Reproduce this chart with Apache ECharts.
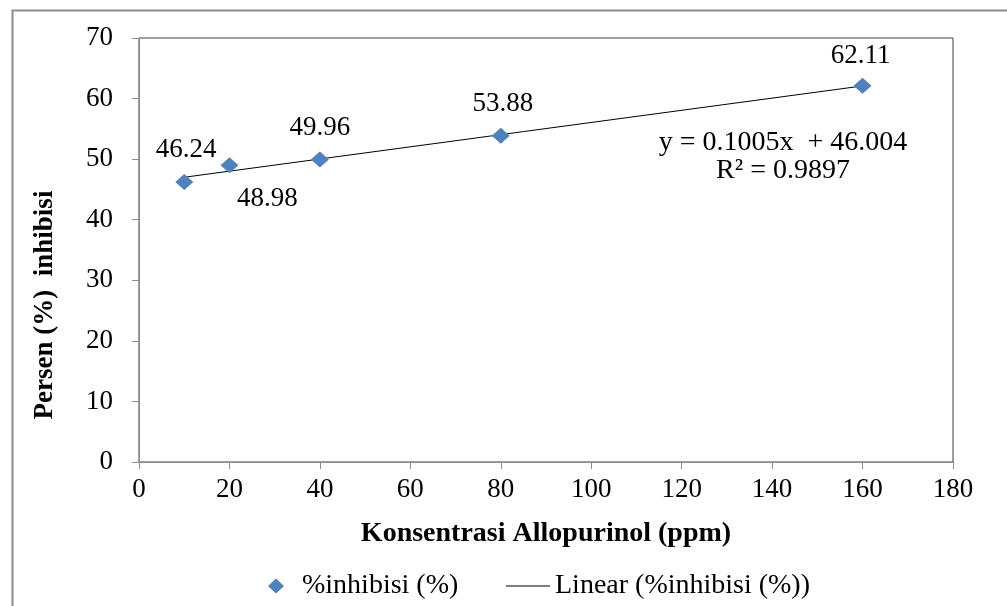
<!DOCTYPE html>
<html>
<head>
<meta charset="utf-8">
<script src="https://cdn.jsdelivr.net/npm/echarts@6/dist/echarts.min.js"></script>
<style>html,body{margin:0;padding:0;background:#fff;}#c{width:1007px;height:606px;}</style>
</head>
<body>
<div id="c"></div>
<script>
const concentrations = [10, 20, 40, 80, 160];
const inhibition = [46.24, 48.98, 49.96, 53.88, 62.11];
const trendX = [10, 160];
const trendY = [47.009, 62.084];
const xTicks = { min: 0, max: 180, interval: 20 };
const yTicks = { min: 0, max: 70, interval: 10 };
const seriesName = '%inhibisi (%)';
const trendName = 'Linear (%inhibisi (%))';
const equationText = 'y = 0.1005x  + 46.004';
const r2Text = 'R² = 0.9897';

const FONT = '"Liberation Serif", "Times New Roman", serif';
const labelOffsets = [[2, -32], [38, 34], [0, -31], [2, -32], [-2, -30]];

const scatterData = concentrations.map((x, i) => ({
  value: [x, inhibition[i]],
  label: { show: true, position: 'inside', offset: labelOffsets[i], formatter: inhibition[i].toFixed(2),
    color: '#000', textBorderWidth: 0, fontFamily: FONT, fontSize: 27 }
}));

const chart = echarts.init(document.getElementById('c'), null, { renderer: 'canvas' });
chart.setOption({
  backgroundColor: '#fff',
  animation: false,
  grid: { left: 139, top: 38, right: 54, bottom: 144, show: true, borderColor: '#404040', borderWidth: 1 },
  xAxis: {
    type: 'value', min: xTicks.min, max: xTicks.max, interval: xTicks.interval,
    name: 'Konsentrasi Allopurinol (ppm)', nameLocation: 'middle', nameGap: 58,
    nameTextStyle: { fontFamily: FONT, fontSize: 28, fontWeight: 'bold', color: '#000' },
    axisLine: { show: true, lineStyle: { color: '#8c8c8c', width: 1 } },
    axisTick: { show: true, inside: false, length: 7, lineStyle: { color: '#8c8c8c' } },
    axisLabel: { fontFamily: FONT, fontSize: 27, color: '#000', margin: 14 },
    splitLine: { show: false }
  },
  yAxis: {
    type: 'value', min: yTicks.min, max: yTicks.max, interval: yTicks.interval,
    axisLine: { show: true, lineStyle: { color: '#8c8c8c', width: 1 } },
    axisTick: { show: true, inside: false, length: 7, lineStyle: { color: '#8c8c8c' } },
    axisLabel: { fontFamily: FONT, fontSize: 27, color: '#000', margin: 26 },
    splitLine: { show: false }
  },
  legend: [
    {
      data: [seriesName], left: 263, top: 567, icon: 'diamond', itemWidth: 16, itemHeight: 15,
      textStyle: { fontFamily: FONT, fontSize: 28, color: '#000', padding: [0, 0, 0, 13] }
    },
    {
      data: [{ name: trendName, icon: 'rect' }], left: 501, top: 567, itemWidth: 44, itemHeight: 1,
      textStyle: { fontFamily: FONT, fontSize: 28, color: '#000', padding: [0, 0, 0, 0] }
    }
  ],
  series: [
    {
      name: trendName, type: 'line', showSymbol: false, symbol: 'none',
      data: trendX.map((x, i) => [x, trendY[i]]),
      lineStyle: { color: '#000', width: 1 }, itemStyle: { color: '#000' }, z: 2
    },
    {
      name: seriesName, type: 'scatter', symbol: 'diamond', symbolSize: [18, 16],
      itemStyle: { color: '#4F81BD', opacity: 1 },
      label: { fontFamily: FONT, fontSize: 27, color: '#000' },
      data: scatterData, z: 3
    }
  ],
  graphic: [
    { type: 'rect', left: 10, top: 8, shape: { x: 0, y: 0, width: 1100, height: 700 },
      style: { fill: null, stroke: '#8c8c8c', lineWidth: 2 }, silent: true },
    { type: 'text', x: 45, y: 305, rotation: Math.PI / 2,
      style: { text: 'Persen (%)  inhibisi', fontFamily: FONT, fontSize: 27, fontWeight: 'bold', fill: '#000', align: 'center', verticalAlign: 'middle' } },
    { type: 'text', x: 783, y: 143,
      style: { text: equationText, fontFamily: FONT, fontSize: 28, fill: '#000', align: 'center', verticalAlign: 'middle' } },
    { type: 'text', x: 783, y: 171,
      style: { text: r2Text, fontFamily: FONT, fontSize: 28, fill: '#000', align: 'center', verticalAlign: 'middle' } }
  ]
});
</script>
</body>
</html>
